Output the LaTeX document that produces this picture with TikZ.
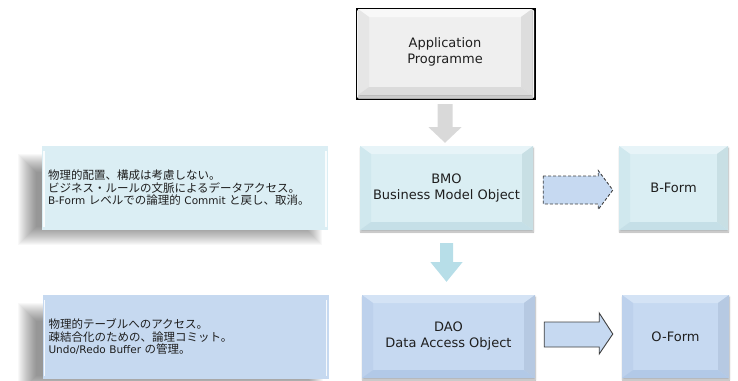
\documentclass[tikz,border=0pt]{standalone}
\usepackage{fontspec}
\setmainfont{DejaVu Sans}
\newfontfamily\jpfont{Noto Sans CJK JP}
\usetikzlibrary{calc,shadows.blur}

% palette
\definecolor{txt}{HTML}{1E1E1E}
\definecolor{greyMain}{HTML}{EFEFEF}
\definecolor{greyTop}{HTML}{F8F8F8}
\definecolor{greySide}{HTML}{E6E6E6}
\definecolor{greyBot}{HTML}{DBDBDB}
\definecolor{cyanMain}{HTML}{DAEEF3}
\definecolor{cyanTop}{HTML}{E7F4F8}
\definecolor{cyanSide}{HTML}{D0E8EE}
\definecolor{cyanBot}{HTML}{C5DFE7}
\definecolor{blueMain}{HTML}{C6D9F1}
\definecolor{blueTop}{HTML}{D4E3F5}
\definecolor{blueSide}{HTML}{BDD1EC}
\definecolor{blueBot}{HTML}{B2C9E7}
\definecolor{noteCyan}{HTML}{DBEEF4}
\definecolor{noteBlue}{HTML}{C6D9F0}
\definecolor{arrowGrey}{HTML}{D9D9D9}
\definecolor{arrowCyan}{HTML}{B7DEE8}
\definecolor{arrowFill}{HTML}{C6D9F1}
\definecolor{arrowLine}{HTML}{404040}

\newcommand{\bvx}{11pt}
\newcommand{\bvy}{8pt}

\pgfdeclarelayer{paper}
\pgfdeclarelayer{castshadow}
\pgfsetlayers{paper,castshadow,main}

\tikzset{
  % box with a soft bevel: main, top, side and bottom shades
  bevelbox/.style n args={4}{
    fill=#1, inner sep=0pt, align=center, text=txt,
    font=\fontsize{13}{16}\selectfont,
    blur shadow={shadow xshift=0.5pt, shadow yshift=-2pt,
                 shadow blur radius=1.5pt, shadow opacity=30},
    path picture={
      \fill[#2] (path picture bounding box.north west) -- (path picture bounding box.north east)
        -- ([shift={(-\bvx,-\bvy)}]path picture bounding box.north east)
        -- ([shift={(\bvx,-\bvy)}]path picture bounding box.north west) -- cycle;
      \fill[#3] (path picture bounding box.north west) -- (path picture bounding box.south west)
        -- ([shift={(\bvx,\bvy)}]path picture bounding box.south west)
        -- ([shift={(\bvx,-\bvy)}]path picture bounding box.north west) -- cycle;
      \fill[#3!96!black] (path picture bounding box.north east) -- (path picture bounding box.south east)
        -- ([shift={(-\bvx,\bvy)}]path picture bounding box.south east)
        -- ([shift={(-\bvx,-\bvy)}]path picture bounding box.north east) -- cycle;
      \fill[#4] (path picture bounding box.south west) -- (path picture bounding box.south east)
        -- ([shift={(-\bvx,\bvy)}]path picture bounding box.south east)
        -- ([shift={(\bvx,\bvy)}]path picture bounding box.south west) -- cycle;
    }},
  greybox/.style={bevelbox={greyMain}{greyTop}{greySide}{greyBot}},
  cyanbox/.style={bevelbox={cyanMain}{cyanTop}{cyanSide}{cyanBot}},
  bluebox/.style={bevelbox={blueMain}{blueTop}{blueSide}{blueBot}},
  % note panel
  notebox/.style={
    fill=#1, minimum width=286pt, minimum height=84pt,
    text width=274pt, inner xsep=6pt, inner ysep=0pt, align=left,
    text=txt, font=\fontsize{10.5}{12.5}\selectfont,
    path picture={
      \draw[white, line width=1.3pt, opacity=0.85]
        ([shift={(2pt,-5pt)}]path picture bounding box.north west)
        -- ([shift={(2pt,3pt)}]path picture bounding box.south west);
      \draw[white, line width=1.3pt, opacity=0.85]
        ([shift={(-2pt,-5pt)}]path picture bounding box.north east)
        -- ([shift={(-2pt,3pt)}]path picture bounding box.south east);
    }},
  shadelayer/.style={fill=black, opacity=0.028},
  dasharrow/.style={fill=arrowFill, draw=arrowLine, line width=0.9pt,
                    dash pattern=on 3pt off 2pt, line join=miter},
  solidarrow/.style={fill=arrowFill, draw=arrowLine, line width=0.9pt, line join=miter}
}

\newcommand{\jt}[1]{{\jpfont\fontsize{11.5}{12.5}\selectfont #1}}

% soft shadow cast to the lower left of a note, fading towards the top
\newcommand{\castshadow}[1]{%
  \foreach \e in {-8,-7,...,10}{
    \fill[shadelayer] ($(#1.north west)+(-14-\e,18-\e)$) rectangle ($(#1.south east)+(-16+\e,5+\e)$);
  }}

\begin{document}
\begin{tikzpicture}[x=1pt, y=-1pt]
  \begin{pgfonlayer}{paper}
    \fill[white] (0,0) rectangle (738,380);
  \end{pgfonlayer}
  \useasboundingbox (0,0) rectangle (738,380);

  % main column
  \node[greybox, minimum width=174pt, minimum height=86pt] (app) at (445,52) {Application\\Programme};
  \node[cyanbox, minimum width=173pt, minimum height=84pt] (bmo) at (446.5,188) {BMO\\Business Model Object};
  \node[bluebox, minimum width=173pt, minimum height=83pt] (dao) at (448.5,336.5) {DAO\\Data Access Object};

  % forms
  \node[cyanbox, minimum width=109pt, minimum height=84pt] (bform) at (673.5,188) {B-Form};
  \node[bluebox, minimum width=107pt, minimum height=83pt] (oform) at (675.5,336.5) {O-Form};

  % notes
  \node[notebox=noteCyan] (note1) at (185,188) {%
    \jt{物理的配置、構成は考慮しない。}\\
    \jt{ビジネス・ルールの文脈によるデータアクセス。}\\
    B-Form \jt{レベルでの論理的} Commit \jt{と戻し、取消。}};
  \node[notebox=noteBlue] (note2) at (185.5,337) {%
    \jt{物理的テーブルへのアクセス。}\\
    \jt{疎結合化のための、論理コミット。}\\
    Undo/Redo Buffer \jt{の管理。}};

  \begin{pgfonlayer}{castshadow}
    \castshadow{note1}
    \castshadow{note2}
  \end{pgfonlayer}

  % Application -> BMO
  \fill[arrowGrey] ($(app.south)+(-7.5,9)$) -- ($(app.south)+(7.5,9)$)
    -- ($(app.south)+(7.5,32)$) -- ($(app.south)+(16.5,32)$)
    -- ($(app.south |- bmo.north)+(0,-3)$)
    -- ($(app.south)+(-16.5,32)$) -- ($(app.south)+(-7.5,32)$) -- cycle;

  % BMO -> DAO
  \fill[arrowCyan] ($(bmo.south)+(-6.5,13)$) -- ($(bmo.south)+(6.5,13)$)
    -- ($(bmo.south)+(6.5,32)$) -- ($(bmo.south)+(16,32)$)
    -- ($(bmo.south |- dao.north)+(0,-13)$)
    -- ($(bmo.south)+(-16,32)$) -- ($(bmo.south)+(-6.5,32)$) -- cycle;

  % BMO -> B-Form
  \filldraw[dasharrow] ($(bmo.east)+(10,-12)$) -- ($(bmo.east)+(65,-12)$)
    -- ($(bmo.east)+(65,-17.5)$) -- ($(bmo.east -| bform.west)+(-6,2)$)
    -- ($(bmo.east)+(65,21.5)$) -- ($(bmo.east)+(65,16)$)
    -- ($(bmo.east)+(10,16)$) -- cycle;

  % DAO -> O-Form
  \filldraw[solidarrow] ($(dao.east)+(9,-14.5)$) -- ($(dao.east)+(64,-14.5)$)
    -- ($(dao.east)+(64,-23.5)$) -- ($(dao.east -| oform.west)+(-9,-2.5)$)
    -- ($(dao.east)+(64,17.5)$) -- ($(dao.east)+(64,10.5)$)
    -- ($(dao.east)+(9,10.5)$) -- cycle;
\end{tikzpicture}
\end{document}
